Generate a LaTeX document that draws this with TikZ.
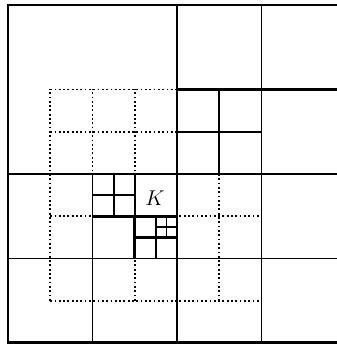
\documentclass[tikz,border=0pt]{standalone}
\usepackage{amsmath}
\usetikzlibrary{positioning}
\tikzset{mesh/.style={line width=1.2pt}, thickmesh/.style={line width=1.9pt}, patch/.style={line width=1.2pt, dash pattern=on 1.2pt off 1.7pt}}
\begin{document}
\begin{tikzpicture}[x=1cm,y=1cm]
        \useasboundingbox (-0.19,-0.05) rectangle (7.787,8.118);
        \clip (-0.19,-0.05) rectangle (7.787,8.118);
        % patch around K
        \draw[patch] (1,1) grid (6,6);
        % coarse cells
        \draw[mesh] (0,4) -- (8,4);
        \draw[mesh] (0,2) -- (8,2);
        \draw[mesh] (4,0) -- (4,8);
        \draw[mesh] (6,0) -- (6,8);
        \draw[mesh] (2,0) -- (2,4);
        \draw[thickmesh] (4,6) -- (8,6);
        \draw[mesh] (5,4) -- (5,6);
        \draw[mesh] (4,5) -- (6,5);
        % refined cells near K
        \draw[mesh] (3,3) -- (3,4);
        \draw[thickmesh] (3,2) -- (3,3);
        \draw[thickmesh] (2,3) -- (4,3);
        \draw[mesh] (2.5,3) -- (2.5,4);
        \draw[mesh] (2,3.5) -- (3,3.5);
        \draw[mesh] (3.5,2) -- (3.5,3);
        \draw[thickmesh] (3,2.5) -- (4,2.5);
        \draw[mesh] (3.75,2.5) -- (3.75,3);
        \draw[mesh] (3.5,2.75) -- (4,2.75);
        \draw[thickmesh] (0,0) rectangle (8,8);
        \node (K) at (3.48,3.43) {\Large\(K\)};
\end{tikzpicture}
\end{document}
